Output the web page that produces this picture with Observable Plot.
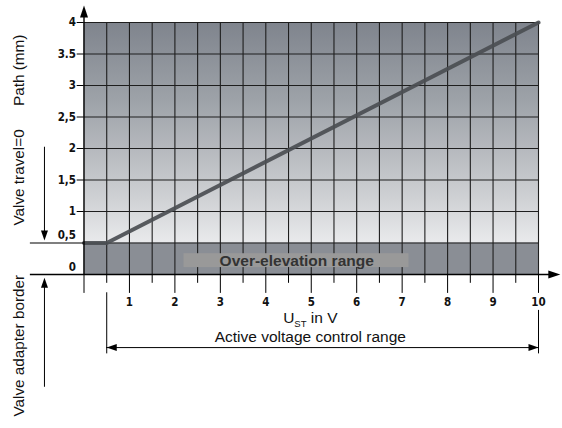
<!DOCTYPE html>
<html><head><meta charset="utf-8">
<script src="https://cdn.jsdelivr.net/npm/d3@7"></script>
<script src="https://cdn.jsdelivr.net/npm/@observablehq/plot@0.6"></script>
<style>body{margin:0;background:#fff;}</style>
</head><body><div id="chart"></div>
<script>
// ---- data ----
const xTickValues = [1, 2, 3, 4, 5, 6, 7, 8, 9, 10];
const xHalfTicks = [0.5, 1.5, 2.5, 3.5, 4.5, 5.5, 6.5, 7.5, 8.5, 9.5];
const gridX = [0.5, 1, 1.5, 2, 2.5, 3, 3.5, 4, 4.5, 5, 5.5, 6, 6.5, 7, 7.5, 8, 8.5, 9, 9.5, 10];
const gridY = [0.5, 1, 1.5, 2, 2.5, 3, 3.5, 4];
const yTickValues = [0, 0.5, 1, 1.5, 2, 2.5, 3, 3.5, 4];
const yTickLabels = ["0", "0,5", "1", "1,5", "2", "2,5", "3", "3.5", "4"];
const pathU = [0, 0.5, 10];
const pathMm = [0.5, 0.5, 4];
const overElevU = [2.2, 7.15];
const overElevMm = [0.11, 0.33];
const activeRangeU = [0.5, 10];
const overLabel = "Over-elevation range";
const xTitle = "U_ST in V";
const rangeTitle = "Active voltage control range";
const yTitle = "Path (mm)";
const travelLabel = "Valve travel=0";
const borderLabel = "Valve adapter border";

const pathPts = pathU.map((u, i) => ({u, mm: pathMm[i]}));
const yTicks = yTickValues.map((v, i) => ({v, label: yTickLabels[i]}));

const narrow = "DejaVu Sans Condensed, sans-serif";
const sans = "Liberation Sans, Arial, sans-serif";
const one = [0];
const c = v => () => v;

// filled, slim arrowhead drawn by the vector mark (tip at the anchor point)
const headShape = halfWidth => ({
  draw(context, l) {
    context.moveTo(0, -l);
    context.lineTo(halfWidth, 0);
    context.lineTo(-halfWidth, 0);
    context.closePath();
  }
});
const head = (x, y, rotate, length, halfWidth) =>
  Plot.vector(one, {x: c(x), y: c(y), rotate, length, anchor: "end", shape: headShape(halfWidth), fill: "#000", stroke: "none"});

const chart = Plot.plot({
  width: 562, height: 428,
  marginTop: 22, marginRight: 24, marginBottom: 154, marginLeft: 83.5,
  x: {domain: [0, 10], axis: null},
  y: {domain: [0, 4], axis: null},
  style: {background: "#fff", fontFamily: sans},
  marks: [
    // background regions
    Plot.rect(one, {x1: c(0), x2: c(10), y1: c(0.5), y2: c(4), fill: "url(#bgGrad)"}),
    Plot.rect(one, {x1: c(0), x2: c(10), y1: c(0), y2: c(0.5), fill: "#8a8e95"}),
    // grid
    Plot.ruleX(gridX, {y1: 0, y2: 4, stroke: "#1e1e1e", strokeWidth: 1.1}),
    Plot.ruleY(gridY, {x1: 0, x2: 10, stroke: "#1e1e1e", strokeWidth: 1.1}),
    // over-elevation box
    Plot.rect(one, {x1: c(overElevU[0]), x2: c(overElevU[1]), y1: c(overElevMm[0]), y2: c(overElevMm[1]), fill: "#999999"}),
    Plot.text([overLabel], {x: c(4.68), y: c(0.215), text: d => d, fontWeight: "bold", fontSize: 15.5, fill: "#333", fontFamily: sans}),
    // characteristic line
    Plot.line(pathPts, {x: "u", y: "mm", stroke: "#4b4e53", strokeWidth: 4, strokeOpacity: 0.92}),
    // axes
    Plot.ruleY([0], {x1: -1.18, x2: 10.4, stroke: "#000", strokeWidth: 1.4}),
    Plot.ruleY([0.5], {x1: -1.18, x2: 0, stroke: "#000", strokeWidth: 1.2}),
    Plot.ruleX([0], {y1: 0, y2: 4.2, stroke: "#000", strokeWidth: 1.4}),
    head(10.48, 0, 90, 12, 4),
    head(0, 4.27, 0, 12, 4),
    // x ticks
    Plot.ruleX([0, ...xTickValues], {y1: 0, y2: -0.3, stroke: "#000", strokeWidth: 1}),
    Plot.ruleX(xHalfTicks, {y1: 0, y2: -0.14, stroke: "#000", strokeWidth: 1}),
    Plot.text(xTickValues, {x: d => d, y: c(-0.435), text: d => String(d), fontFamily: narrow, fontWeight: "bold", fontSize: 11.5, fill: "#111"}),
    // y ticks
    Plot.ruleY(yTickValues.filter(v => v >= 1), {x1: -0.15, x2: 0, stroke: "#000"}),
    Plot.text(yTicks.filter(d => d.v >= 1), {x: c(0), y: "v", text: "label", dx: -8, textAnchor: "end", fontFamily: narrow, fontWeight: "bold", fontSize: 11.5, fill: "#111"}),
    Plot.text(yTicks.filter(d => d.v < 1), {x: c(0), y: "v", text: "label", dx: -8, dy: -7.5, textAnchor: "end", fontFamily: narrow, fontWeight: "bold", fontSize: 11.5, fill: "#111"}),
    // active voltage control range
    Plot.ruleX([activeRangeU[0]], {y1: -0.29, y2: -1.26, stroke: "#000", strokeWidth: 1}),
    Plot.ruleX([activeRangeU[1]], {y1: -0.57, y2: -1.26, stroke: "#000", strokeWidth: 1}),
    Plot.ruleY([-1.16], {x1: activeRangeU[0], x2: activeRangeU[1], stroke: "#000", strokeWidth: 1}),
    head(activeRangeU[0], -1.16, -90, 10, 3.5),
    head(activeRangeU[1], -1.16, 90, 10, 3.5),
    Plot.text([xTitle], {x: c(4.98), y: c(-0.685), text: d => d, fontSize: 15.5, fill: "#111", fontFamily: sans}),
    Plot.text([rangeTitle], {x: c(4.98), y: c(-1.0), text: d => d, fontSize: 15.5, fill: "#111", fontFamily: sans}),
    // left annotations
    Plot.text([yTitle], {x: c(-1.43), y: c(3.24), text: d => d, rotate: -90, fontSize: 15.3, fill: "#111", fontFamily: sans}),
    Plot.text([travelLabel], {x: c(-1.43), y: c(1.54), text: d => d, rotate: -90, fontSize: 15.3, fill: "#111", fontFamily: sans}),
    Plot.text([borderLabel], {x: c(-1.43), y: c(-1.13), text: d => d, rotate: -90, fontSize: 15.3, fill: "#111", fontFamily: sans}),
    Plot.ruleX([-0.87], {y1: 2.02, y2: 0.6, stroke: "#000", strokeWidth: 1}),
    head(-0.87, 0.54, 180, 10, 3.5),
    Plot.ruleX([-0.87], {y1: -1.79, y2: -0.11, stroke: "#000", strokeWidth: 1}),
    head(-0.87, -0.05, 0, 10, 3.5)
  ]
});

// gradient definition for the upper plot background
const svg = d3.select(chart);
const grad = svg.insert("defs", ":first-child").append("linearGradient")
  .attr("id", "bgGrad").attr("x1", 0).attr("y1", 0).attr("x2", 0).attr("y2", 1);
[["0%", "#7f848d"], ["35%", "#9da2a8"], ["58%", "#b6b9be"], ["80%", "#cfd1d4"], ["100%", "#e9eaec"]]
  .forEach(([o, col]) => grad.append("stop").attr("offset", o).attr("stop-color", col));

// subscript for U_ST
svg.selectAll("text").filter(function() { return this.textContent === xTitle; })
  .each(function() {
    const t = d3.select(this);
    t.text(null);
    t.append("tspan").text("U");
    t.append("tspan").attr("font-size", 9.5).attr("dy", 4).text("ST");
    t.append("tspan").attr("dy", -4).text(" in V");
  });

document.getElementById("chart").appendChild(chart);
</script>
</body></html>
